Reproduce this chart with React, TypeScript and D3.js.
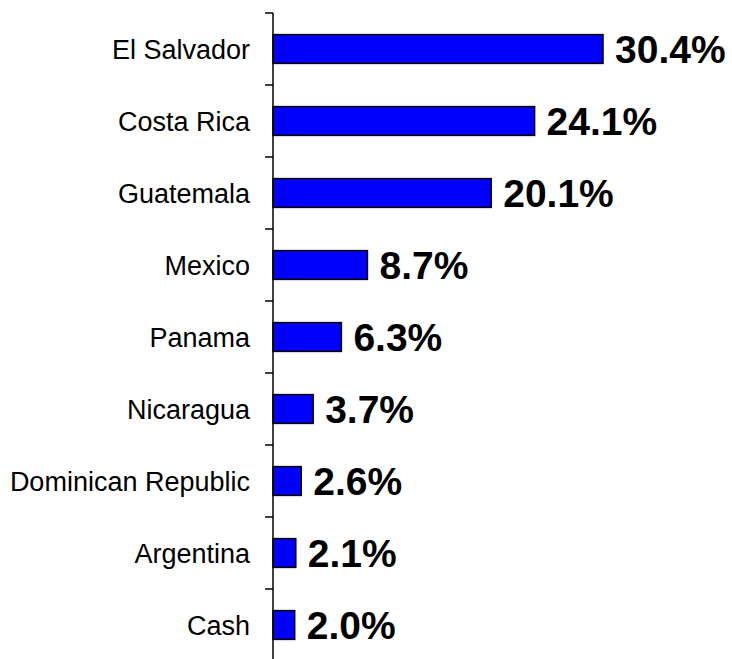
import React, { useEffect, useRef } from 'react';
import * as d3 from 'd3';

const categories: string[] = [
  'El Salvador',
  'Costa Rica',
  'Guatemala',
  'Mexico',
  'Panama',
  'Nicaragua',
  'Dominican Republic',
  'Argentina',
  'Cash',
];
const shares: number[] = [30.4, 24.1, 20.1, 8.7, 6.3, 3.7, 2.6, 2.1, 2.0];
const valueLabels: string[] = ['30.4%', '24.1%', '20.1%', '8.7%', '6.3%', '3.7%', '2.6%', '2.1%', '2.0%'];

const W = 732;
const H = 659;

const App: React.FC = () => {
  const ref = useRef<SVGSVGElement | null>(null);

  useEffect(() => {
    const svg = d3.select(ref.current);
    svg.selectAll('*').remove();

    const axisX = 273;
    const top = 13;
    const bandH = 72;

    const y = d3.scaleBand<string>()
      .domain(categories)
      .range([top, top + bandH * categories.length])
      .paddingInner(0.6)
      .paddingOuter(0.3);

    const x = d3.scaleLinear()
      .domain([0, 30.4])
      .range([axisX, 603]);

    const data = categories.map((c, i) => ({ c, v: shares[i], label: valueLabels[i] }));

    // bars
    svg.selectAll('rect.bar')
      .data(data)
      .enter()
      .append('rect')
      .attr('class', 'bar')
      .attr('x', x(0))
      .attr('y', d => y(d.c) as number)
      .attr('width', d => x(d.v) - x(0))
      .attr('height', y.bandwidth())
      .attr('fill', '#0000ff')
      .attr('stroke', '#000')
      .attr('stroke-width', 1.5);

    // axis line + ticks at band boundaries
    svg.append('line')
      .attr('x1', axisX).attr('x2', axisX)
      .attr('y1', top).attr('y2', H + 5)
      .attr('stroke', '#000').attr('stroke-width', 1.5);

    const step = y.step();
    svg.selectAll('line.tick')
      .data(d3.range(categories.length + 1))
      .enter()
      .append('line')
      .attr('class', 'tick')
      .attr('x1', axisX - 8).attr('x2', axisX)
      .attr('y1', i => top + i * step)
      .attr('y2', i => top + i * step)
      .attr('stroke', '#000').attr('stroke-width', 1.5);

    // category labels
    svg.selectAll('text.cat')
      .data(data)
      .enter()
      .append('text')
      .attr('class', 'cat')
      .attr('x', axisX - 23)
      .attr('y', d => (y(d.c) as number) + y.bandwidth() / 2 + 10)
      .attr('text-anchor', 'end')
      .attr('font-family', '"Liberation Sans", Arial, sans-serif')
      .attr('font-size', 27)
      .attr('fill', '#000')
      .text(d => d.c);

    // value labels
    svg.selectAll('text.val')
      .data(data)
      .enter()
      .append('text')
      .attr('class', 'val')
      .attr('x', d => x(d.v) + 12)
      .attr('y', d => (y(d.c) as number) + y.bandwidth() / 2 + 14)
      .attr('font-family', '"Liberation Sans", Arial, sans-serif')
      .attr('font-size', 39)
      .attr('font-weight', 'bold')
      .attr('fill', '#000')
      .text(d => d.label);
  }, []);

  return (
    <svg
      ref={ref}
      width={W}
      height={H}
      style={{ position: 'absolute', left: 0, top: 0, background: '#fff' }}
    />
  );
};

export default App;
